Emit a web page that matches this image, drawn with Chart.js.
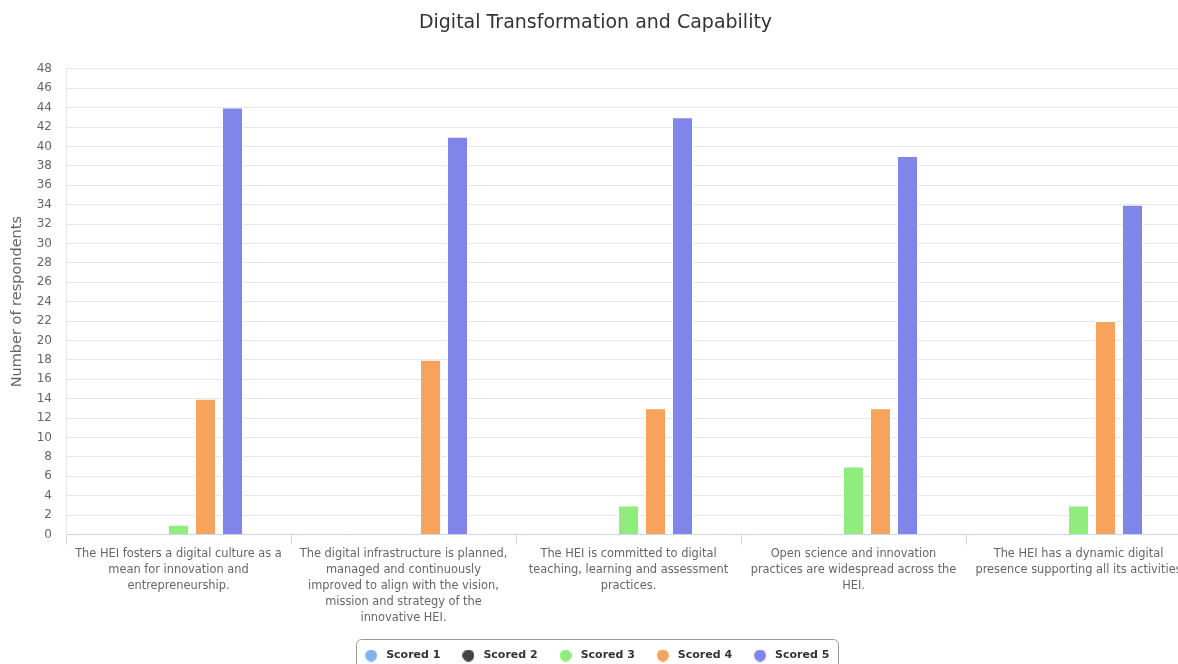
<!DOCTYPE html>
<html>
<head>
<meta charset="utf-8">
<script src="https://cdn.jsdelivr.net/npm/chart.js@4.4.1/dist/chart.umd.min.js"></script>
<style>
  html, body { margin: 0; padding: 0; background: #fff; }
  #wrap { width: 1178px; height: 664px; overflow: hidden; position: relative; }
  canvas { display: block; }
</style>
</head>
<body>
<div id="wrap"><canvas id="chart" width="1191" height="671"></canvas></div>
<script>
// categories (wrapped the way the original shows them)
var categories = [
  ['The HEI fosters a digital culture as a', 'mean for innovation and', 'entrepreneurship.'],
  ['The digital infrastructure is planned,', 'managed and continuously', 'improved to align with the vision,', 'mission and strategy of the', 'innovative HEI.'],
  ['The HEI is committed to digital', 'teaching, learning and assessment', 'practices.'],
  ['Open science and innovation', 'practices are widespread across the', 'HEI.'],
  ['The HEI has a dynamic digital', 'presence supporting all its activities']
];

var scored1 = [0, 0, 0, 0, 0];
var scored2 = [0, 0, 0, 0, 0];
var scored3 = [1, 0, 3, 7, 3];
var scored4 = [14, 18, 13, 13, 22];
var scored5 = [44, 41, 43, 39, 34];

var seriesNames = ['Scored 1', 'Scored 2', 'Scored 3', 'Scored 4', 'Scored 5'];
var seriesColors = ['#7cb5ec', '#434348', '#90ed7d', '#f7a35c', '#8085e9'];
var seriesValues = [scored1, scored2, scored3, scored4, scored5];

var FONT = "'DejaVu Sans', Verdana, sans-serif";

// small round markers for the legend
function makeDot(color) {
  var c = document.createElement('canvas');
  c.width = 12; c.height = 12;
  var g = c.getContext('2d');
  g.fillStyle = color;
  g.beginPath();
  g.arc(6, 6, 6, 0, Math.PI * 2);
  g.fill();
  return c;
}
var dots = seriesColors.map(makeDot);

// draws the rounded frame round the legend, like the original
var legendFrame = {
  id: 'legendFrame',
  afterDraw: function(chart) {
    var boxes = chart.legend.legendHitBoxes;
    if (!boxes || !boxes.length) return;
    var minX = Infinity, maxX = -Infinity;
    var mid = boxes[0].top + boxes[0].height / 2;
    boxes.forEach(function(b) {
      minX = Math.min(minX, b.left);
      maxX = Math.max(maxX, b.left + b.width);
    });
    var ctx = chart.ctx;
    var x = minX - 6, y = mid - 17, w = (maxX - minX) + 14;
    ctx.save();
    ctx.strokeStyle = '#999999';
    ctx.lineWidth = 1;
    ctx.beginPath();
    ctx.roundRect(Math.round(x) + 0.5, Math.round(y) + 0.5, Math.round(w), 40, 5);
    ctx.stroke();
    ctx.restore();
  }
};

var datasets = [];
for (var i = 0; i < seriesNames.length; i++) {
  datasets.push({
    label: seriesNames[i],
    data: seriesValues[i],
    backgroundColor: seriesColors[i],
    borderColor: '#ffffff',
    borderWidth: 1,
    categoryPercentage: 0.6,
    barPercentage: 0.78
  });
}

new Chart(document.getElementById('chart').getContext('2d'), {
  type: 'bar',
  data: { labels: categories, datasets: datasets },
  plugins: [legendFrame],
  options: {
    responsive: false,
    devicePixelRatio: 1,
    animation: false,
    plugins: {
      title: {
        display: true,
        text: 'Digital Transformation and Capability',
        color: '#333333',
        font: { family: FONT, size: 19, weight: 'normal' },
        padding: { top: 12, bottom: 34 }
      },
      legend: {
        position: 'bottom',
        labels: {
          usePointStyle: true,
          pointStyleWidth: 19,
          boxHeight: 11,
          padding: 18.5,
          color: '#333333',
          font: { family: FONT, size: 11, weight: 'bold' },
          generateLabels: function(chart) {
            var items = Chart.defaults.plugins.legend.labels.generateLabels(chart);
            items.forEach(function(it, k) { it.pointStyle = dots[k]; });
            return items;
          }
        }
      },
      tooltip: { enabled: false }
    },
    scales: {
      x: {
        grid: {
          drawOnChartArea: false,
          drawTicks: true,
          tickLength: 10,
          color: '#ccd6eb'
        },
        border: { color: '#ccd6eb' },
        ticks: {
          maxRotation: 0,
          autoSkip: false,
          color: '#666666',
          padding: 1,
          font: { family: FONT, size: 11.4, lineHeight: 1.42 }
        },
        afterFit: function(scale) { scale.height = 97; }
      },
      y: {
        min: 0,
        max: 48,
        grid: { color: '#e6e6e6', drawTicks: false },
        border: { color: '#e6e6e6' },
        ticks: {
          stepSize: 2,
          autoSkip: false,
          color: '#666666',
          padding: 14,
          font: { family: FONT, size: 12 }
        },
        title: {
          display: true,
          text: 'Number of respondents',
          color: '#666666',
          font: { family: FONT, size: 14.5 },
          padding: { top: 9, bottom: 0 }
        },
        afterFit: function(scale) { scale.width = 66; }
      }
    }
  }
});
</script>
</body>
</html>
